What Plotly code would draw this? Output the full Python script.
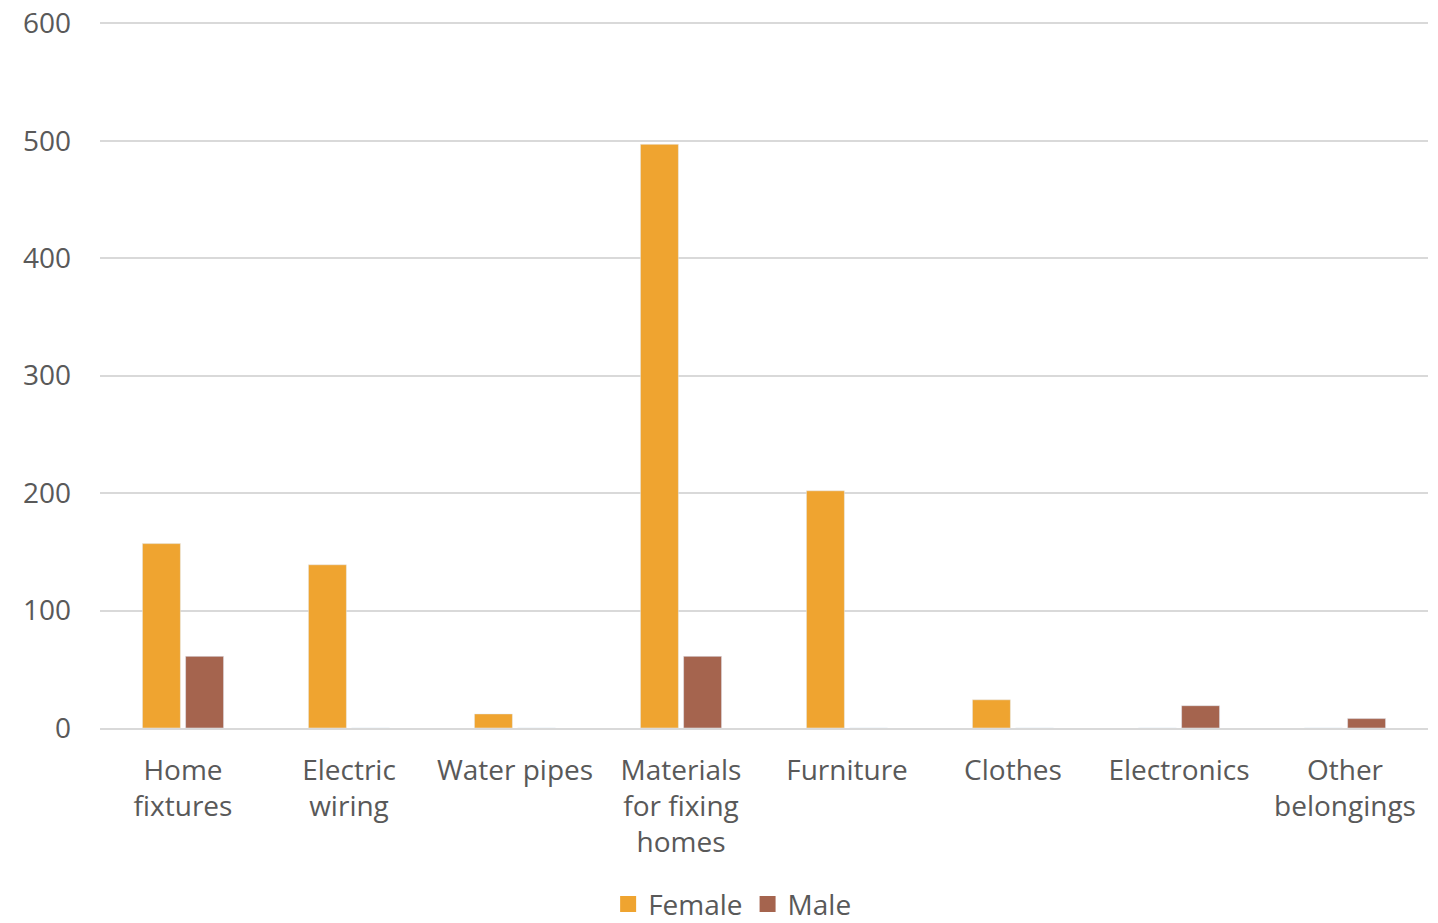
import plotly.graph_objects as go

categories = ["Home<br>fixtures", "Electric<br>wiring", "Water pipes", "Materials<br>for fixing<br>homes",
              "Furniture", "Clothes", "Electronics", "Other<br>belongings"]
female = [157, 139, 12, 497, 202, 24, 0, 0]
male = [61, 0, 0, 61, 0, 0, 19, 8]
y_ticks = [0, 100, 200, 300, 400, 500, 600]

FONT = "Open Sans"
C_F = "#EFA430"
C_M = "#A5644E"
fig = go.Figure()
fig.add_trace(go.Bar(name="Female", x=categories, y=female, marker_color=C_F, showlegend=False))
fig.add_trace(go.Bar(name="Male", x=categories, y=male, marker_color=C_M, showlegend=False))
# legend entries with larger square symbols
fig.add_trace(go.Scatter(name="Female", x=[None], y=[None], mode="markers",
                         marker=dict(symbol="square", size=19, color=C_F)))
fig.add_trace(go.Scatter(name="Male", x=[None], y=[None], mode="markers",
                         marker=dict(symbol="square", size=19, color=C_M)))

fig.update_layout(
    width=1438, height=923,
    margin=dict(l=92, r=18, t=13, b=203),
    plot_bgcolor="white", paper_bgcolor="white",
    barmode="group", bargap=0.48, bargroupgap=0.12,
    font=dict(family=FONT, size=28, color="#595959"),
    showlegend=True,
    legend=dict(orientation="h", x=0.476, xanchor="center", yref="container", y=0.029, yanchor="middle",
                font=dict(size=28, color="#595959"), itemwidth=30, traceorder="normal",
                itemsizing="trace"),
)
fig.update_yaxes(range=[0, 602], tickvals=y_ticks, showgrid=True, gridcolor="#D9D9D9", gridwidth=2,
                 zeroline=False, showline=False, ticks="", ticklabelstandoff=28, automargin=False,
                 ticklabeloverflow="allow", tickfont=dict(size=28, color="#595959"))
fig.update_xaxes(showline=True, linecolor="#D9D9D9", linewidth=2, ticks="", ticklabelstandoff=16,
                 automargin=False, ticklabeloverflow="allow", tickfont=dict(size=28, color="#595959"),
                 tickangle=0)

fig.write_html("out.html")
